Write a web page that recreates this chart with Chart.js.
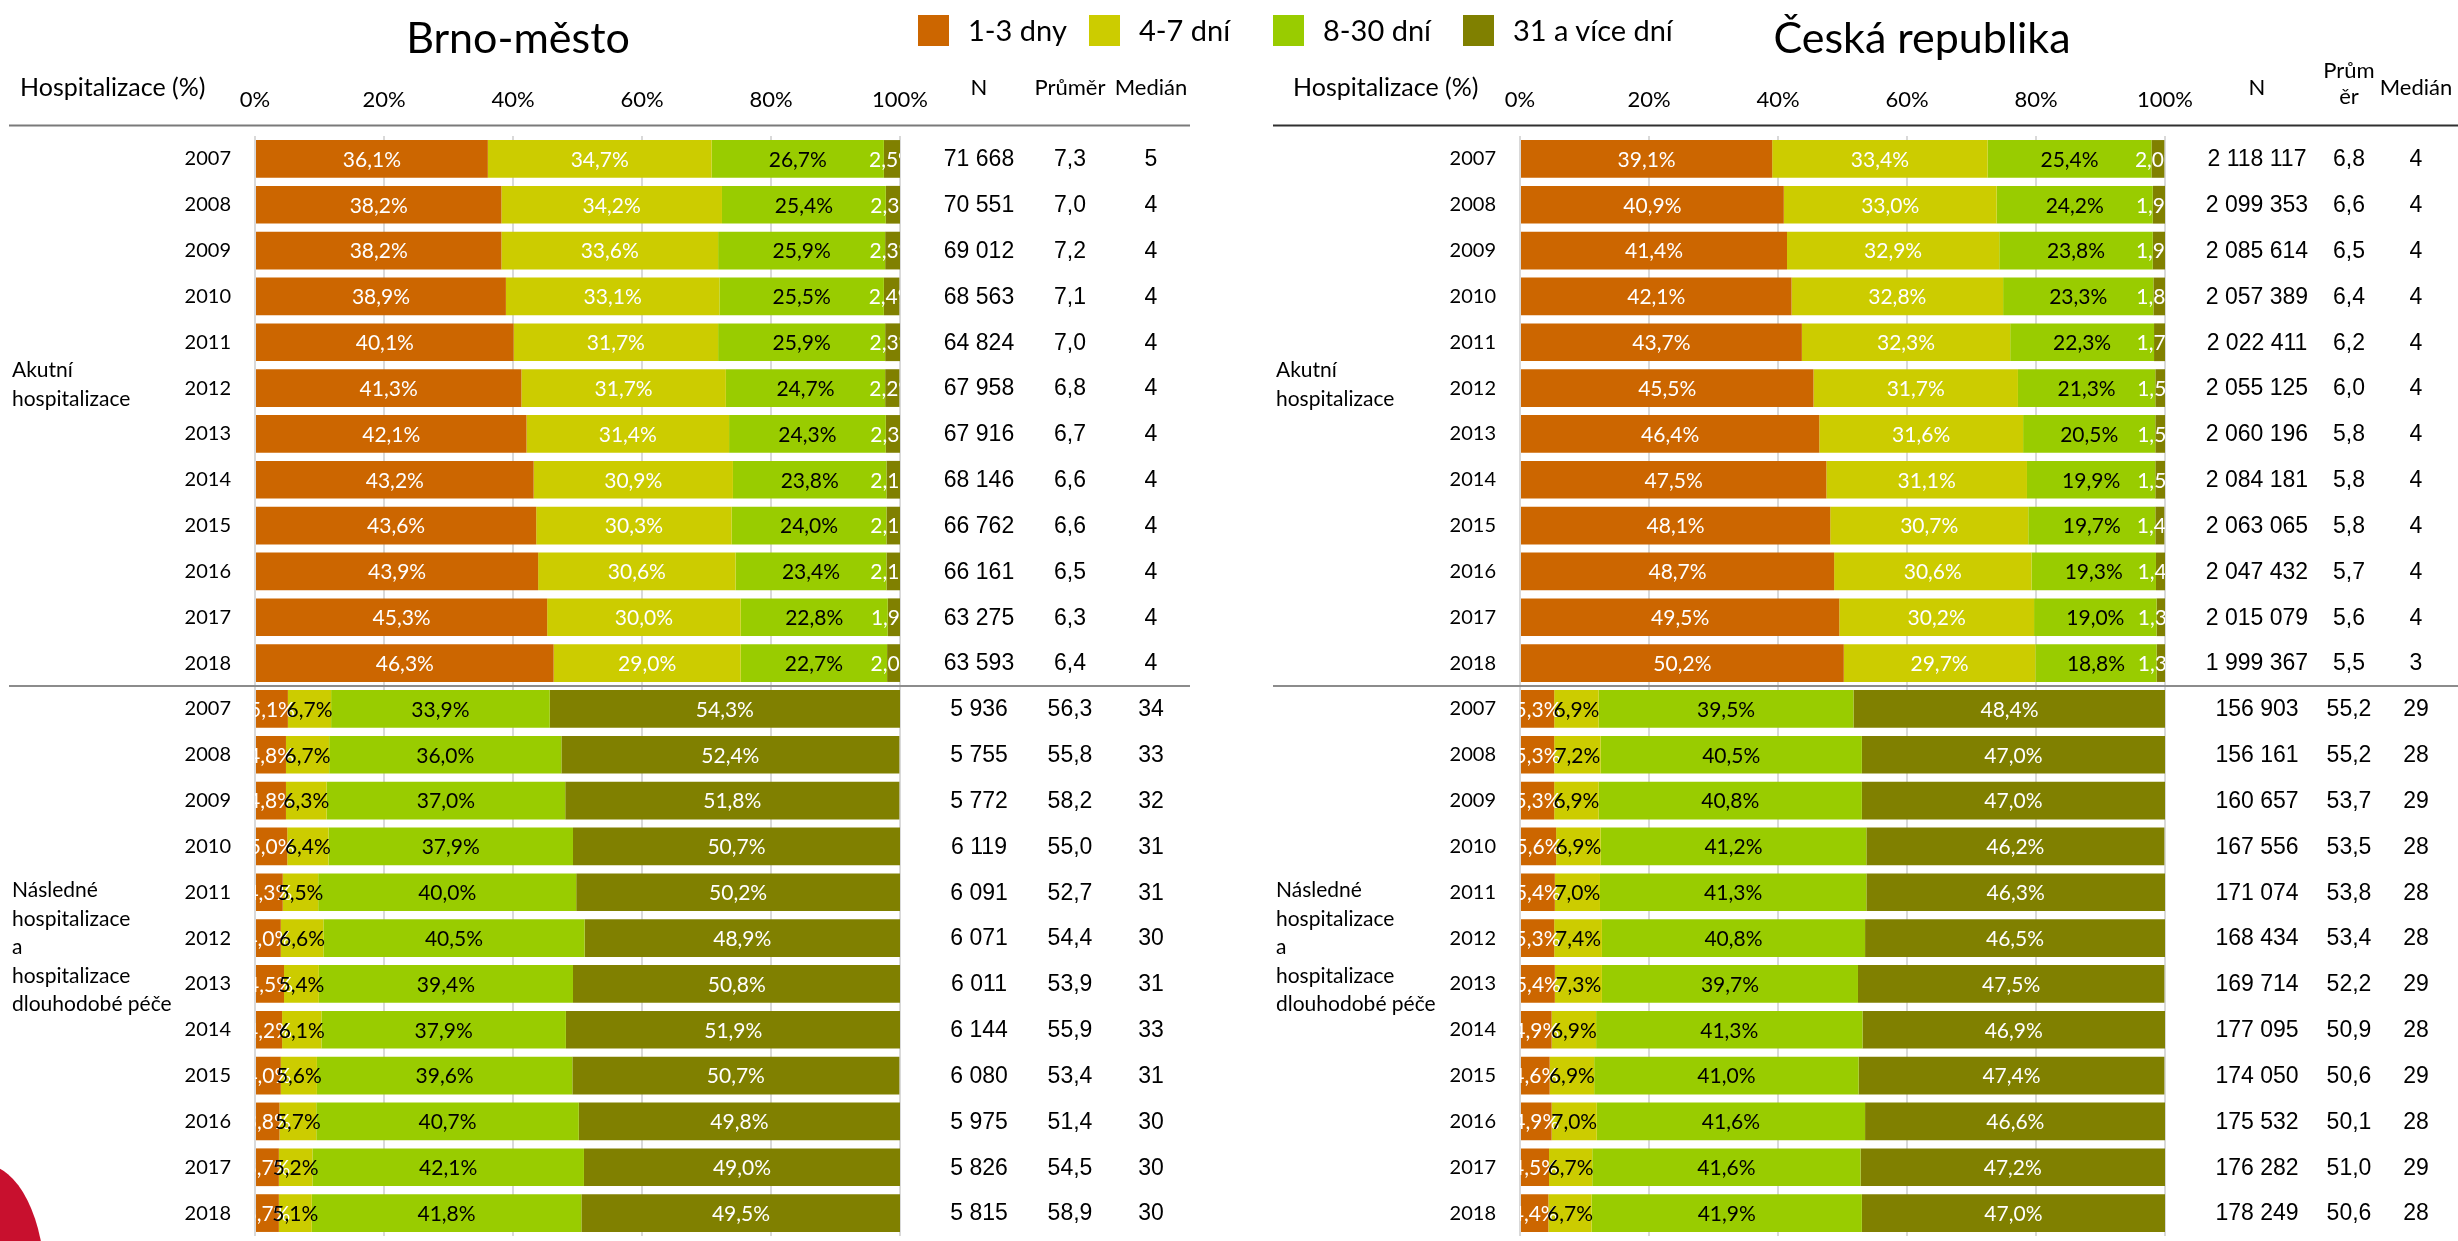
<!DOCTYPE html>
<html><head><meta charset="utf-8">
<script src="https://cdn.jsdelivr.net/npm/chart.js@4.4.1/dist/chart.umd.min.js"></script>
<style>
html,body{margin:0;padding:0;background:#fff;width:2458px;height:1241px;overflow:hidden;font-family:Lato,sans-serif;position:relative;}
canvas{position:absolute;top:0;}
.title{position:absolute;top:11px;font-size:43px;line-height:1.2;color:#000;white-space:nowrap;transform:translateX(-50%);}
.lg{position:absolute;top:13px;height:35px;display:flex;align-items:center;font-size:29px;line-height:1.2;white-space:nowrap;color:#000;}
.lg i{display:inline-block;width:31px;height:31px;margin-right:19px;}
.deco{position:absolute;left:-75px;top:1165px;width:120px;height:240px;border-radius:50%;background:#c8102e;}
</style></head><body>
<div class="deco"></div>
<canvas id="cL" width="1229" height="1241" style="left:0"></canvas>
<canvas id="cR" width="1193" height="1241" style="left:1265px"></canvas>
<div class="title" style="left:518px">Brno-město</div>
<div class="title" style="left:1922px">Česká republika</div>
<div id="legend"></div>
<script>
// ---------- DATA ----------
const years = ['2007','2008','2009','2010','2011','2012','2013','2014','2015','2016','2017','2018'];
const seriesNames = ['1-3 dny','4-7 dní','8-30 dní','31 a více dní'];
const xTickLabels = ['0%','20%','40%','60%','80%','100%'];
const tableHeaders = ['N','Průměr','Medián'];
const sectionAcute = ['Akutní','hospitalizace'];
const sectionFollow = ['Následné','hospitalizace','a','hospitalizace','dlouhodobé péče'];

// Brno-město – akutní hospitalizace (%)
const brnoAcute13  = [36.1,38.2,38.2,38.9,40.1,41.3,42.1,43.2,43.6,43.9,45.3,46.3];
const brnoAcute47  = [34.7,34.2,33.6,33.1,31.7,31.7,31.4,30.9,30.3,30.6,30.0,29.0];
const brnoAcute830 = [26.7,25.4,25.9,25.5,25.9,24.7,24.3,23.8,24.0,23.4,22.8,22.7];
const brnoAcute31  = [2.5,2.3,2.3,2.4,2.3,2.2,2.3,2.1,2.1,2.1,1.9,2.0];
// Brno-město – následné a dlouhodobé (%)
const brnoFollow13  = [5.1,4.8,4.8,5.0,4.3,4.0,4.5,4.2,4.0,3.8,3.7,3.7];
const brnoFollow47  = [6.7,6.7,6.3,6.4,5.5,6.6,5.4,6.1,5.6,5.7,5.2,5.1];
const brnoFollow830 = [33.9,36.0,37.0,37.9,40.0,40.5,39.4,37.9,39.6,40.7,42.1,41.8];
const brnoFollow31  = [54.3,52.4,51.8,50.7,50.2,48.9,50.8,51.9,50.7,49.8,49.0,49.5];
// ČR – akutní (%)
const czAcute13  = [39.1,40.9,41.4,42.1,43.7,45.5,46.4,47.5,48.1,48.7,49.5,50.2];
const czAcute47  = [33.4,33.0,32.9,32.8,32.3,31.7,31.6,31.1,30.7,30.6,30.2,29.7];
const czAcute830 = [25.4,24.2,23.8,23.3,22.3,21.3,20.5,19.9,19.7,19.3,19.0,18.8];
const czAcute31  = [2.0,1.9,1.9,1.8,1.7,1.5,1.5,1.5,1.4,1.4,1.3,1.3];
// ČR – následné a dlouhodobé (%)
const czFollow13  = [5.3,5.3,5.3,5.6,5.4,5.3,5.4,4.9,4.6,4.9,4.5,4.4];
const czFollow47  = [6.9,7.2,6.9,6.9,7.0,7.4,7.3,6.9,6.9,7.0,6.7,6.7];
const czFollow830 = [39.5,40.5,40.8,41.2,41.3,40.8,39.7,41.3,41.0,41.6,41.6,41.9];
const czFollow31  = [48.4,47.0,47.0,46.2,46.3,46.5,47.5,46.9,47.4,46.6,47.2,47.0];

// N / průměr / medián
const brnoAcuteN      = [71668,70551,69012,68563,64824,67958,67916,68146,66762,66161,63275,63593];
const brnoAcuteMean   = [7.3,7.0,7.2,7.1,7.0,6.8,6.7,6.6,6.6,6.5,6.3,6.4];
const brnoAcuteMedian = [5,4,4,4,4,4,4,4,4,4,4,4];
const brnoFollowN      = [5936,5755,5772,6119,6091,6071,6011,6144,6080,5975,5826,5815];
const brnoFollowMean   = [56.3,55.8,58.2,55.0,52.7,54.4,53.9,55.9,53.4,51.4,54.5,58.9];
const brnoFollowMedian = [34,33,32,31,31,30,31,33,31,30,30,30];
const czAcuteN      = [2118117,2099353,2085614,2057389,2022411,2055125,2060196,2084181,2063065,2047432,2015079,1999367];
const czAcuteMean   = [6.8,6.6,6.5,6.4,6.2,6.0,5.8,5.8,5.8,5.7,5.6,5.5];
const czAcuteMedian = [4,4,4,4,4,4,4,4,4,4,4,3];
const czFollowN      = [156903,156161,160657,167556,171074,168434,169714,177095,174050,175532,176282,178249];
const czFollowMean   = [55.2,55.2,53.7,53.5,53.8,53.4,52.2,50.9,50.6,50.1,51.0,50.6];
const czFollowMedian = [29,28,29,28,28,28,29,28,29,28,29,28];

// ---------- STYLE ----------
const colors = ['#CC6600','#CCCC00','#99CC00','#808000'];
const upperTxt = ['#ffffff','#ffffff','#000000','#ffffff'];
const lowerTxt = ['#ffffff','#000000','#000000','#ffffff'];
const FONT = 'Lato, sans-serif';
const NUMFONT = '"Liberation Sans", Arial, sans-serif';

// legend (HTML)
const lgX = [918,1089,1273,1463];
const lg = document.getElementById('legend');
seriesNames.forEach((n,k)=>{
  const d = document.createElement('div');
  d.className='lg'; d.style.left = lgX[k]+'px';
  d.innerHTML = '<i style="background:'+colors[k]+'"></i><span></span>';
  d.querySelector('span').textContent = n;
  lg.appendChild(d);
});

const fmtPct = v => v.toFixed(1).replace('.',',') + '%';
const fmtDec = v => v.toFixed(1).replace('.',',');
const fmtN = v => String(v).replace(/\B(?=(\d{3})+(?!\d))/g,' ');

function makePanel(id, W, acute, follow, statsA, statsF, cfg){
  const labels = years.concat(years);
  const datasets = colors.map((c,k)=>({
    label: seriesNames[k],
    data: acute[k].concat(follow[k]),
    backgroundColor: c, borderWidth: 0,
    categoryPercentage: 1, barPercentage: 0.823
  }));
  const stats = [statsA[0].concat(statsF[0]), statsA[1].concat(statsF[1]), statsA[2].concat(statsF[2])];

  const linesPlugin = {
    id:'lines'+id,
    beforeDatasetsDraw(chart){
      const ctx = chart.ctx;
      ctx.save();
      ctx.strokeStyle = cfg.lineColor; ctx.lineWidth = 2;
      ctx.beginPath(); ctx.moveTo(cfg.lineX[0], 125.5); ctx.lineTo(cfg.lineX[1], 125.5); ctx.stroke();
      ctx.strokeStyle = '#8c8c8c';
      ctx.beginPath(); ctx.moveTo(cfg.lineX[0], 686); ctx.lineTo(cfg.lineX[1], 686); ctx.stroke();
      ctx.restore();
    }
  };
  const labelPlugin = {
    id:'seg'+id,
    afterDatasetsDraw(chart){
      const {ctx, chartArea:a} = chart;
      ctx.save();
      ctx.beginPath(); ctx.rect(a.left, a.top, a.right-a.left, a.bottom-a.top); ctx.clip();
      ctx.font = '21px ' + FONT; ctx.textAlign='center'; ctx.textBaseline='middle';
      chart.data.datasets.forEach((ds,di)=>{
        const meta = chart.getDatasetMeta(di);
        meta.data.forEach((el,i)=>{
          ctx.fillStyle = (i<12 ? upperTxt : lowerTxt)[di];
          ctx.fillText(fmtPct(ds.data[i]), (el.x+el.base)/2, el.y+1);
        });
      });
      ctx.restore();
    }
  };
  const tablePlugin = {
    id:'tbl'+id,
    afterDraw(chart){
      const ctx = chart.ctx, ys = chart.scales.y;
      ctx.save();
      ctx.fillStyle = '#000';
      ctx.font = '25px ' + FONT; ctx.textAlign='left'; ctx.textBaseline='alphabetic';
      ctx.fillText('Hospitalizace (%)', cfg.hospX, 96);
      ctx.font = '22px ' + FONT; ctx.textAlign='center';
      tableHeaders.forEach((h,k)=>{
        if (k===1 && cfg.splitMean){
          ctx.fillText(h.slice(0,4), cfg.cols[k], 78);
          ctx.fillText(h.slice(4), cfg.cols[k], 104);
        } else ctx.fillText(h, cfg.cols[k], 95);
      });
      ctx.font = '21px ' + FONT; ctx.textAlign='left';
      sectionAcute.forEach((t,k)=>ctx.fillText(t, cfg.secX, 377 + k*29));
      sectionFollow.forEach((t,k)=>ctx.fillText(t, cfg.secX, 897 + k*28.5));
      ctx.font = '23px ' + NUMFONT; ctx.textAlign='center'; ctx.textBaseline='middle';
      for (let i=0;i<24;i++){
        const y = ys.getPixelForValue(i) + 1;
        ctx.fillText(fmtN(stats[0][i]), cfg.cols[0], y);
        ctx.fillText(fmtDec(stats[1][i]), cfg.cols[1], y);
        ctx.fillText(String(stats[2][i]), cfg.cols[2], y);
      }
      ctx.restore();
    }
  };

  return new Chart(document.getElementById(id), {
    type:'bar',
    data:{labels, datasets},
    plugins:[linesPlugin, labelPlugin, tablePlugin],
    options:{
      responsive:false, animation:false, indexAxis:'y',
      layout:{padding:{left:0, right:W-900, top:0, bottom:5}},
      plugins:{legend:{display:false}, tooltip:{enabled:false}},
      scales:{
        x:{type:'linear', position:'top', stacked:true, min:0, max:100,
           afterFit(s){ s.height = 136; s.paddingLeft = 0; s.paddingRight = 0; },
           ticks:{stepSize:20, autoSkip:false, maxRotation:0,
                  callback:(v,i)=>xTickLabels[i],
                  font:{family:FONT, size:22}, color:'#000', padding:23},
           grid:{color:'#d9d9d9', lineWidth:2, drawTicks:false},
           border:{display:false}},
        y:{type:'category', position:'left', stacked:true,
           afterFit(s){ s.width = 255; s.paddingTop = 0; s.paddingBottom = 0; },
           ticks:{autoSkip:false, font:{family:FONT, size:20}, color:'#000', padding:24},
           grid:{display:false, drawTicks:false},
           border:{display:false}}
      }
    }
  });
}

makePanel('cL', 1229,
  [brnoAcute13,brnoAcute47,brnoAcute830,brnoAcute31],
  [brnoFollow13,brnoFollow47,brnoFollow830,brnoFollow31],
  [brnoAcuteN,brnoAcuteMean,brnoAcuteMedian],
  [brnoFollowN,brnoFollowMean,brnoFollowMedian],
  {cols:[979,1070,1151], hospX:20, secX:12, lineX:[9,1190], lineColor:'#7a7a7a', splitMean:false});

makePanel('cR', 1193,
  [czAcute13,czAcute47,czAcute830,czAcute31],
  [czFollow13,czFollow47,czFollow830,czFollow31],
  [czAcuteN,czAcuteMean,czAcuteMedian],
  [czFollowN,czFollowMean,czFollowMedian],
  {cols:[992,1084,1151], hospX:28, secX:11, lineX:[8,1193], lineColor:'#303030', splitMean:true});
</script>
</body></html>
